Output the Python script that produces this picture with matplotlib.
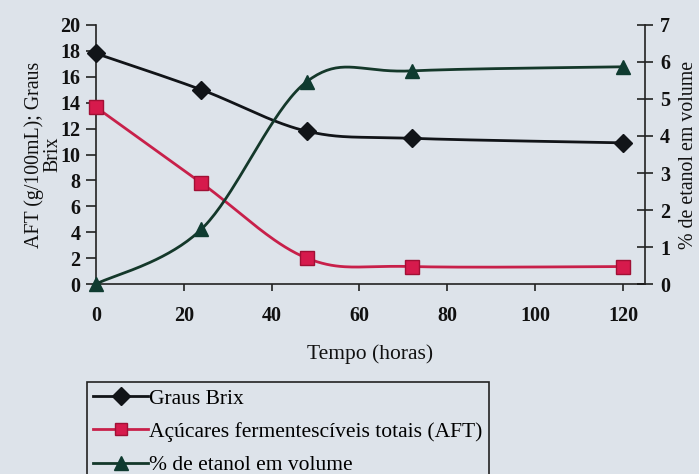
import numpy as np
import matplotlib
matplotlib.use("Agg")
import matplotlib.pyplot as plt
from matplotlib.lines import Line2D

# Data
tempo = [0, 24, 48, 72, 120]
graus_brix = [17.8, 15.0, 11.8, 11.25, 10.9]
aft = [13.65, 7.8, 2.0, 1.35, 1.35]
etanol = [0.0, 1.48, 5.47, 5.76, 5.87]

x_ticks = [0, 20, 40, 60, 80, 100, 120]
y_left_ticks = list(range(0, 21, 2))
y_right_ticks = list(range(0, 8))

BG = "#dde3ea"
plt.rcParams['font.family'] = ['Liberation Serif', 'DejaVu Serif']


def smooth(xs, ys, n=40):
    """Excel-style smoothed line (Bezier through points, Catmull-Rom tangents)."""
    P = np.column_stack([xs, ys]).astype(float)
    m = len(P)
    out = []
    for i in range(m - 1):
        p0 = P[i - 1] if i > 0 else P[i]
        p1, p2 = P[i], P[i + 1]
        p3 = P[i + 2] if i + 2 < m else P[i + 1]
        c1 = p1 + (p2 - p0) / 6.0
        c2 = p2 - (p3 - p1) / 6.0
        t = np.linspace(0, 1, n)[:, None]
        seg = ((1 - t) ** 3) * p1 + 3 * ((1 - t) ** 2) * t * c1 + 3 * (1 - t) * t ** 2 * c2 + t ** 3 * p2
        if i > 0:
            seg = seg[1:]
        out.append(seg)
    c = np.vstack(out)
    return c[:, 0], c[:, 1]


fig = plt.figure(figsize=(6.99, 4.74), dpi=100, facecolor=BG)
ax = fig.add_axes([0.1373, 0.4008, 0.9227 - 0.1373, 0.9473 - 0.4008])
ax.set_facecolor(BG)
ax2 = ax.twinx()

c_brix = "#111418"
c_aft = "#c8204a"
c_aft_m = "#d61a4c"
c_et = "#14382a"
c_et_m = "#0f3b30"
lw = 2.0

sx, sy = smooth(tempo, graus_brix)
ax.plot(sx, sy, color=c_brix, lw=lw, zorder=3)
ax.plot(tempo, graus_brix, ls='none', marker='D', ms=9, color=c_brix, zorder=4, clip_on=False)

sx, sy = smooth(tempo, aft)
ax.plot(sx, sy, color=c_aft, lw=lw, zorder=3)
ax.plot(tempo, aft, ls='none', marker='s', ms=10, mfc=c_aft_m, mec="#a01035", mew=1, zorder=4, clip_on=False)

sx, sy = smooth(tempo, etanol)
ax2.plot(sx, sy, color=c_et, lw=lw, zorder=3)
ax2.plot(tempo, etanol, ls='none', marker='^', ms=10, color=c_et_m, zorder=4, clip_on=False)

ax.set_xlim(0, 125)
ax.set_ylim(0, 20)
ax2.set_ylim(0, 7)
ax.set_xticks(x_ticks)
ax.set_yticks(y_left_ticks)
ax2.set_yticks(y_right_ticks)

for a in (ax, ax2):
    a.spines['top'].set_visible(False)
    for s in a.spines.values():
        s.set_color("#222")
        s.set_linewidth(1.2)
ax.spines['right'].set_visible(False)
ax2.spines['left'].set_visible(False)
ax2.spines['bottom'].set_visible(False)

tick_font = dict(family=['Liberation Serif', 'DejaVu Serif'], weight='bold', size=14.5)
ax.tick_params(axis='x', direction='out', length=5, width=1.1, pad=11, colors="#111")
ax.tick_params(axis='y', direction='out', length=7, width=1.1, pad=4, colors="#111")
ax2.tick_params(axis='y', direction='inout', length=12, width=1.1, pad=5, colors="#111")
for lab in ax.get_xticklabels() + ax.get_yticklabels() + ax2.get_yticklabels():
    lab.set_fontproperties(tick_font)

ax.set_xlabel("Tempo (horas)", fontsize=15.5, labelpad=13, color="#111")
ax.set_ylabel("AFT (g/100mL); Graus\nBrix", fontsize=14.3, color="#111", linespacing=0.95)
ax.yaxis.set_label_coords(-0.062, 0.5)
ax2.set_ylabel("% de etanol em volume", fontsize=14.3, rotation=90, color="#111")
ax2.yaxis.set_label_coords(1.062, 0.5)

handles = [
    Line2D([], [], color=c_brix, lw=lw, marker='D', ms=9),
    Line2D([], [], color=c_aft, lw=lw, marker='s', ms=9, mfc=c_aft_m, mec="#a01035"),
    Line2D([], [], color=c_et, lw=lw, marker='^', ms=10, mfc=c_et_m, mec=c_et_m),
]
labels = ["Graus Brix", "Açúcares fermentescíveis totais (AFT)", "% de etanol em volume"]
leg = fig.legend(handles, labels, loc='upper left', bbox_to_anchor=(0.1245, 0.194),
                 bbox_transform=fig.transFigure, fontsize=15.5, frameon=True, fancybox=False,
                 edgecolor="#222", facecolor=BG, framealpha=1, handlelength=2.55,
                 handletextpad=0.05, labelspacing=0.62, borderpad=0.3, borderaxespad=0)
leg.get_frame().set_linewidth(1.2)

fig.savefig("out.png", dpi=100, facecolor=BG)
